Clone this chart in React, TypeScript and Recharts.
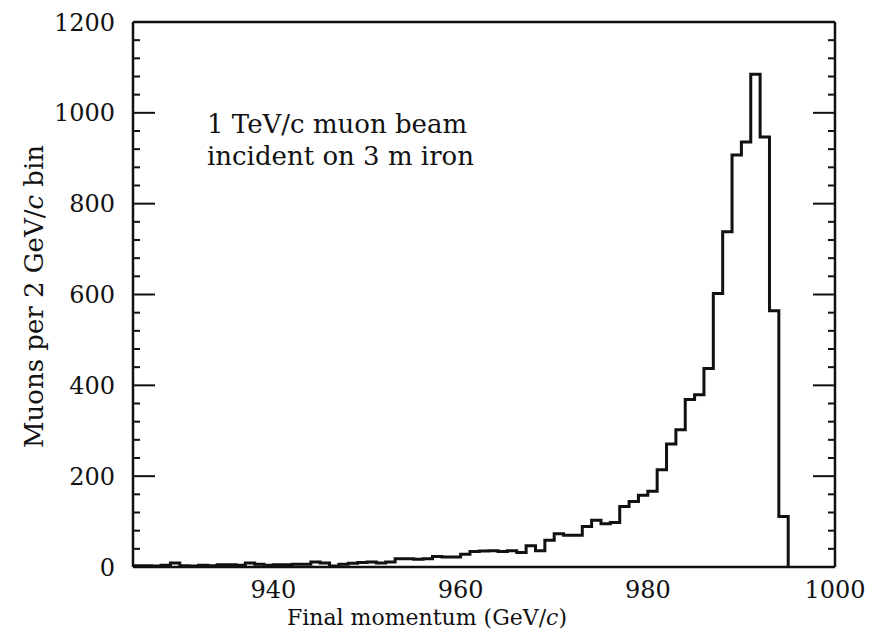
import { Label, Line, LineChart, XAxis, YAxis } from 'recharts';

// muon counts per bin, first bin starts at 925 GeV/c
const binStart = 925;
const binWidth = 1;
const counts = [
  3, 3, 2, 4, 9, 3, 2, 4, 3, 5,
  5, 4, 9, 6, 4, 5, 5, 6, 6, 11,
  9, 2, 6, 8, 10, 11, 9, 11, 18, 18,
  17, 18, 23, 22, 22, 28, 34, 35, 36, 34,
  36, 32, 47, 36, 59, 73, 70, 70, 89, 103,
  95, 98, 133, 144, 158, 167, 214, 271, 302, 369,
  379, 437, 602, 738, 907, 936, 1085, 947, 564, 111,
];

const xDomain = [925, 1000];
const xMajorTicks = [940, 960, 980, 1000];
const xMinorTicks = [928, 932, 936, 944, 948, 952, 956, 964, 968, 972, 976, 984, 988, 992, 996];
const yDomain = [0, 1200];
const yMajorTicks = [0, 200, 400, 600, 800, 1000, 1200];
const yMinorTicks = [
  40, 80, 120, 160, 240, 280, 320, 360, 440, 480, 520, 560,
  640, 680, 720, 760, 840, 880, 920, 960, 1040, 1080, 1120, 1160,
];

// step points: each bin's lower edge, plus a closing edge at zero
const histData = [
  ...counts.map((n, i) => ({ p: binStart + i * binWidth, n })),
  { p: binStart + counts.length * binWidth, n: 0 },
];

const INK = '#111';
const FONT = '"DejaVu Serif", serif';
const axisLine = { stroke: INK, strokeWidth: 2.5 };
const tickLine = { stroke: INK, strokeWidth: 2 };
const tickText = { fill: INK, fontSize: 24, fontFamily: FONT };
const noTick = () => <g />;
// mirror axes only draw inward tick marks; a zero size would stop them rendering
const THIN = 0.01;

const XTitle = (props: any) => {
  const vb = props.viewBox ?? { x: 133, y: 567, width: 702, height: 74 };
  return (
    <text x={vb.x + 294} y={vb.y + 58} textAnchor="middle" fill={INK} fontSize={22} fontFamily={FONT}>
      Final momentum (GeV/<tspan fontStyle="italic">c</tspan>)
    </text>
  );
};

const YTitle = (props: any) => {
  const vb = props.viewBox ?? { x: 73, y: 22, width: 60, height: 545 };
  const cx = vb.x - 30;
  const cy = vb.y + vb.height / 2 + 2;
  return (
    <text
      x={cx}
      y={cy}
      transform={`rotate(-90, ${cx}, ${cy})`}
      textAnchor="middle"
      fill={INK}
      fontSize={26}
      fontFamily={FONT}
    >
      Muons per 2 GeV/<tspan fontStyle="italic">c</tspan> bin
    </text>
  );
};

export default function App() {
  return (
    <div style={{ position: 'absolute', left: 0, top: 0, width: 879, height: 641, background: '#fff' }}>
      <LineChart
        width={879}
        height={641}
        data={histData}
        margin={{ top: 22, right: 44, bottom: 0, left: 73 }}
      >
        {/* inward ticks on all four sides */}
        <XAxis xAxisId="bMinor" type="number" domain={xDomain} allowDataOverflow ticks={xMinorTicks}
          orientation="bottom" mirror height={THIN} tickSize={7} tickLine={tickLine} tick={noTick}
          axisLine={false} interval={0} />
        <XAxis xAxisId="bMajor" type="number" domain={xDomain} allowDataOverflow ticks={xMajorTicks}
          orientation="bottom" mirror height={THIN} tickSize={22} tickLine={tickLine} tick={noTick}
          axisLine={false} interval={0} />
        <XAxis xAxisId="tMinor" type="number" domain={xDomain} allowDataOverflow ticks={xMinorTicks}
          orientation="top" mirror height={THIN} tickSize={7} tickLine={tickLine} tick={noTick}
          axisLine={axisLine} interval={0} />
        <XAxis xAxisId="tMajor" type="number" domain={xDomain} allowDataOverflow ticks={xMajorTicks}
          orientation="top" mirror height={THIN} tickSize={22} tickLine={tickLine} tick={noTick}
          axisLine={false} interval={0} />
        <YAxis yAxisId="lMinor" type="number" domain={yDomain} allowDataOverflow ticks={yMinorTicks}
          orientation="left" mirror width={THIN} tickSize={7} tickLine={tickLine} tick={noTick}
          axisLine={false} interval={0} />
        <YAxis yAxisId="lMajor" type="number" domain={yDomain} allowDataOverflow ticks={yMajorTicks}
          orientation="left" mirror width={THIN} tickSize={22} tickLine={tickLine} tick={noTick}
          axisLine={false} interval={0} />
        <YAxis yAxisId="rMinor" type="number" domain={yDomain} allowDataOverflow ticks={yMinorTicks}
          orientation="right" mirror width={THIN} tickSize={7} tickLine={tickLine} tick={noTick}
          axisLine={axisLine} interval={0} />
        <YAxis yAxisId="rMajor" type="number" domain={yDomain} allowDataOverflow ticks={yMajorTicks}
          orientation="right" mirror width={THIN} tickSize={22} tickLine={tickLine} tick={noTick}
          axisLine={false} interval={0} />

        {/* labelled axes */}
        <XAxis xAxisId="x" dataKey="p" type="number" domain={xDomain} allowDataOverflow
          ticks={xMajorTicks} height={74} tickSize={0} tickMargin={14} tickLine={false}
          axisLine={axisLine} tick={tickText} interval={0}>
          <Label content={XTitle} />
        </XAxis>
        <YAxis yAxisId="y" type="number" domain={yDomain} allowDataOverflow
          ticks={yMajorTicks} width={60} tickSize={0} tickMargin={18} tickLine={false}
          axisLine={axisLine} tick={tickText} interval={0}>
          <Label content={YTitle} />
        </YAxis>

        <Line
          xAxisId="x"
          yAxisId="y"
          dataKey="n"
          type="stepAfter"
          stroke={INK}
          strokeWidth={3}
          dot={false}
          activeDot={false}
          isAnimationActive={false}
        />
      </LineChart>
      <div
        style={{
          position: 'absolute',
          left: 207,
          top: 108,
          fontFamily: FONT,
          fontSize: 26,
          lineHeight: '32px',
          color: INK,
          whiteSpace: 'nowrap',
        }}
      >
        1 TeV/c muon beam
        <br />
        incident on 3 m iron
      </div>
    </div>
  );
}
